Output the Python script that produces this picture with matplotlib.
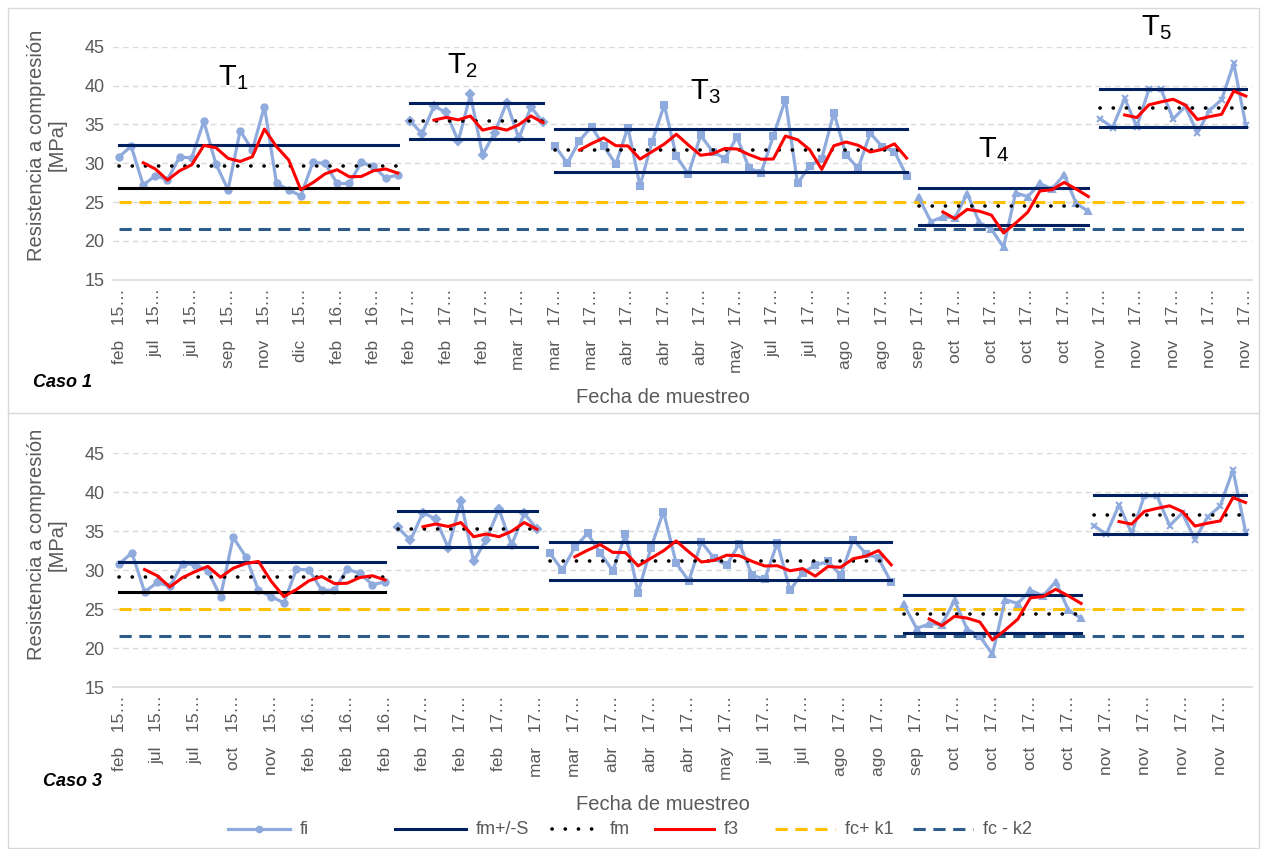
import numpy as np
import matplotlib
matplotlib.use("Agg")
import matplotlib.pyplot as plt
from matplotlib.lines import Line2D
from matplotlib.patches import Rectangle

plt.rcParams['font.family'] = ['Liberation Sans', 'DejaVu Sans']
plt.rcParams['mathtext.fontset'] = 'custom'
plt.rcParams['mathtext.rm'] = 'Liberation Sans'

# ---------------- Caso 1 (top) ----------------
c1_T1 = [30.8, 32.2, 27.2, 28.4, 27.9, 30.8, 30.7, 35.4, 29.9, 26.6, 34.2, 31.7,
         37.3, 27.4, 26.6, 25.8, 30.1, 30.0, 27.4, 27.4, 30.1, 29.6, 28.1, 28.5]
c1_T2 = [35.5, 33.8, 37.35, 36.55, 32.85, 38.85, 31.1, 33.9, 37.8, 33.2, 37.25, 35.25]
c1_T3 = [32.2, 30.0, 32.9, 34.7, 32.2, 29.9, 34.6, 27.1, 32.8, 37.5, 30.9, 28.6,
         33.6, 31.5, 30.6, 33.4, 29.35, 28.8, 33.5, 38.2, 27.4, 29.65, 30.6, 36.5,
         31.1, 29.35, 33.9, 32.1, 31.5, 28.4]
c1_T4 = [25.6, 22.5, 23.1, 23.0, 26.1, 22.4, 21.5, 19.2, 26.2, 25.7, 27.4, 26.7,
         28.5, 24.85, 23.8]
c1_T5 = [35.7, 34.6, 38.35, 34.7, 39.5, 39.5, 35.7, 37.3, 33.9, 36.8, 38.2, 42.85, 34.9]
c1_fm = [29.6, 35.4, 31.65, 24.45, 37.15]
c1_S = [2.8, 2.3, 2.8, 2.4, 2.47]
c1_labels = ["feb 15", "jul 15", "jul 15", "sep 15", "nov 15", "dic 15", "feb 16",
             "feb 16", "feb 17", "feb 17", "feb 17", "mar 17", "mar 17", "mar 17",
             "abr 17", "abr 17", "abr 17", "may 17", "jul 17", "jul 17", "ago 17",
             "ago 17", "sep 17", "oct 17", "oct 17", "oct 17", "oct 17", "nov 17",
             "nov 17", "nov 17", "nov 17", "nov 17"]

# ---------------- Caso 3 (bottom) ----------------
c3_T1 = [30.8, 32.2, 27.2, 28.4, 27.9, 30.8, 30.7, 29.9, 26.6, 34.2, 31.7,
         27.4, 26.6, 25.8, 30.1, 30.0, 27.4, 27.4, 30.1, 29.6, 28.1, 28.5]
c3_T2 = [35.5, 33.8, 37.35, 36.55, 32.85, 38.85, 31.1, 33.9, 37.8, 33.2, 37.25, 35.25]
c3_T3 = [32.2, 30.0, 32.9, 34.7, 32.2, 29.9, 34.6, 27.1, 32.8, 37.5, 30.9, 28.6,
         33.6, 31.5, 30.6, 33.4, 29.35, 28.8, 33.5, 27.4, 29.65, 30.6,
         31.1, 29.35, 33.9, 32.1, 31.5, 28.4]
c3_T4 = [25.6, 22.5, 23.1, 23.0, 26.1, 22.4, 21.5, 19.2, 26.2, 25.7, 27.4, 26.7,
         28.5, 24.85, 23.8]
c3_T5 = [35.7, 34.6, 38.35, 34.7, 39.5, 39.5, 35.7, 37.3, 33.9, 36.8, 38.2, 42.85, 34.9]
c3_fm = [29.1, 35.3, 31.2, 24.4, 37.1]
c3_S = [1.95, 2.3, 2.45, 2.45, 2.5]
c3_labels = ["feb 15", "jul 15", "jul 15", "oct 15", "nov 15", "feb 16", "feb 16",
             "feb 16", "feb 17", "feb 17", "feb 17", "mar 17", "mar 17", "abr 17",
             "abr 17", "abr 17", "may 17", "jul 17", "jul 17", "ago 17", "ago 17",
             "sep 17", "oct 17", "oct 17", "oct 17", "oct 17", "nov 17", "nov 17",
             "nov 17", "nov 17"]

fc_k1 = 25.0
fc_k2 = 21.6

tramo_names = ["T$_1$", "T$_2$", "T$_3$", "T$_4$", "T$_5$"]
tramo_pos = [(9.4, 41.0), (28.3, 42.6), (48.4, 39.2), (72.2, 31.7), (85.6, 47.4)]

legend_labels = ["fi", "fm+/-S", "fm", "f3", "fc+ k1", "fc - k2"]

FI = "#8FAADC"
NAVY = "#002060"
RED = "#FF0000"
YEL = "#FFC000"
DBLUE = "#2E5C8A"
GRAY = "#595959"
GRID = "#D9D9D9"
markers = ["o", "D", "s", "^", "x"]
DOT = (0, (0.05, 3.6))
DASH = (0, (4, 2.5))

W, H = 1262, 849
fig = plt.figure(figsize=(W / 100, H / 100), dpi=100)


def draw_panel(ax, segs, fm, S, labels):
    start = 0
    for i, seg in enumerate(segs):
        n = len(seg)
        x = np.arange(start, start + n)
        y = np.array(seg)
        ax.plot(x, y, color=FI, lw=2.3, marker=markers[i], ms=4.5, mew=1.5,
                mfc=FI, mec=FI, zorder=3)
        ax.plot([x[0], x[-1]], [fm[i] + S[i]] * 2, color=NAVY, lw=2.2, zorder=4)
        ax.plot([x[0], x[-1]], [fm[i] - S[i]] * 2,
                color=("black" if i == 0 else NAVY), lw=2.2, zorder=4)
        ax.plot([x[0], x[-1]], [fm[i]] * 2, color="black", lw=2.6,
                linestyle=DOT, dash_capstyle="round", zorder=5)
        f3 = np.convolve(y, np.ones(3) / 3.0, mode="valid")
        ax.plot(x[2:], f3, color=RED, lw=2.2, zorder=6)
        start += n
    N = start
    xs = np.arange(N)
    ax.plot(xs, [fc_k1] * N, color=YEL, lw=2.2, linestyle=DASH, zorder=2)
    ax.plot(xs, [fc_k2] * N, color=DBLUE, lw=2.2, linestyle=DASH, zorder=2)
    ax.set_xlim(-0.5, N - 0.5)
    ax.set_ylim(15, 45)
    ax.set_yticks(range(15, 50, 5))
    ticks = list(range(0, N, 3))
    ax.set_xticks(ticks)
    ax.set_xticklabels([l.replace(" ", "   ") + "\u2026" for l in labels[:len(ticks)]],
                       rotation=90, fontsize=12.5, color=GRAY)
    for t in ax.get_yticklabels():
        t.set_color(GRAY)
        t.set_fontsize(13)
    ax.tick_params(axis="both", length=0, pad=6)
    for g in range(20, 50, 5):
        ax.axhline(g, color=GRID, lw=1.0, linestyle=(0, (4, 3)), zorder=1)
    for s in ["top", "right", "left"]:
        ax.spines[s].set_visible(False)
    ax.spines["bottom"].set_color(GRID)
    ax.spines["bottom"].set_linewidth(1.2)
    return N


ax1 = fig.add_axes([0.0895, 0.6704, 0.9025, 0.2746])
draw_panel(ax1, [c1_T1, c1_T2, c1_T3, c1_T4, c1_T5], c1_fm, c1_S, c1_labels)
for name, (xx, yy) in zip(tramo_names, tramo_pos):
    ax1.text(xx, yy, name, fontsize=21, ha="center", va="center", clip_on=False)

ax2 = fig.add_axes([0.0895, 0.1908, 0.9025, 0.2756])
draw_panel(ax2, [c3_T1, c3_T2, c3_T3, c3_T4, c3_T5], c3_fm, c3_S, c3_labels)

# Axis titles
fig.text(0.037, 0.829, "Resistencia a compresión\n[MPa]", rotation=90, ha="center",
         va="center", fontsize=14.5, color=GRAY, linespacing=1.1)
fig.text(0.037, 0.359, "Resistencia a compresión\n[MPa]", rotation=90, ha="center",
         va="center", fontsize=14.5, color=GRAY, linespacing=1.1)
fig.text(0.525, 0.532, "Fecha de muestreo", ha="center", va="center", fontsize=14.5,
         color=GRAY)
fig.text(0.525, 0.052, "Fecha de muestreo", ha="center", va="center", fontsize=14.5,
         color=GRAY)
fig.text(0.026, 0.549, "Caso 1", fontsize=13, fontweight="bold", style="italic",
         ha="left", va="center")
fig.text(0.034, 0.079, "Caso 3", fontsize=13, fontweight="bold", style="italic",
         ha="left", va="center")

# Borders
fig.add_artist(Rectangle((0.006, 0.001), 0.992, 0.990, transform=fig.transFigure,
                         fill=False, edgecolor=GRID, lw=1.0))
fig.add_artist(Line2D([0.006, 0.998], [1 - 413 / H] * 2, transform=fig.transFigure,
                      color=GRID, lw=1.0))

# Legend (manual placement, Excel-like spacing)
styles = [
    dict(color=FI, lw=2.3, marker="o", ms=4.5, mfc=FI, mec=FI, markevery=[1]),
    dict(color=NAVY, lw=2.2),
    dict(color="black", lw=2.6, linestyle=DOT, dash_capstyle="round"),
    dict(color=RED, lw=2.2),
    dict(color=YEL, lw=2.2, linestyle=DASH),
    dict(color=DBLUE, lw=2.2, linestyle=DASH),
]
handle_x = [(228, 290), (395, 466), (552, 600), (655, 714), (775, 835), (913, 973)]
text_x = [300, 476, 610, 724, 845, 983]
ly = 1 - 829 / H
for lab, st, (h0, h1), tx in zip(legend_labels, styles, handle_x, text_x):
    x0, x1 = h0 / W, h1 / W
    fig.add_artist(Line2D([x0, (x0 + x1) / 2, x1], [ly, ly, ly],
                          transform=fig.transFigure, **st))
    fig.text(tx / W, ly, lab, fontsize=13, color=GRAY, ha="left", va="center")

fig.savefig("out.png", dpi=100)
